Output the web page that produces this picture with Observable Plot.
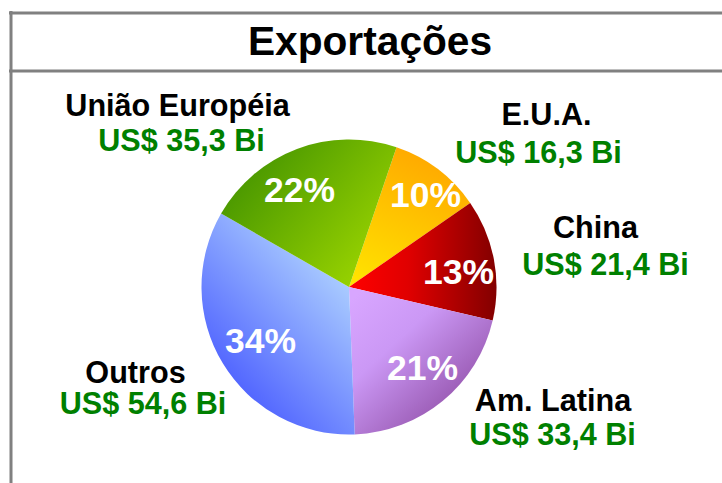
<!DOCTYPE html>
<html lang="pt">
<head>
<meta charset="utf-8">
<style>
html,body{margin:0;padding:0;background:#fff;overflow:hidden}
svg{display:block}
</style>
<script src="https://cdn.jsdelivr.net/npm/d3@7"></script>
<script src="https://cdn.jsdelivr.net/npm/@observablehq/plot@0.6"></script>
</head>
<body>
<div id="chart"></div>
<script>
const title = "Exportações";
const regions = ["E.U.A.", "China", "Am. Latina", "Outros", "União Européia"];
const values = [16.3, 21.4, 33.4, 54.6, 35.3];
const shares = ["10%", "13%", "21%", "34%", "22%"];
const amounts = ["US$ 16,3 Bi", "US$ 21,4 Bi", "US$ 33,4 Bi", "US$ 54,6 Bi", "US$ 35,3 Bi"];

// Layout, separate from the data
const W = 722, H = 483;
const pieCenter = [349, 287], pieRadius = 147.5, startAngleDeg = 18.8;
const FONT = "'Liberation Sans', Arial, sans-serif";
const regionAt = [[546, 115], [595, 228], [552.5, 401], [135, 373], [177, 105.5]];
const amountAt = [[538, 153], [605, 265], [552, 435], [142.5, 404], [181, 141]];
const shareAt = [[425, 195], [458, 272], [422, 368], [260, 341], [299, 190.5]];
// gradient vectors are relative to the pie centre
const gradients = [
  {v: [0, 0, 70, -150], s: [["0%", "#ffe600"], ["100%", "#ffa400"]]},
  {v: [0, 0, 148, 0], s: [["0%", "#ff0000"], ["40%", "#e00000"], ["100%", "#820000"]]},
  {v: [10, 5, 130, 135], s: [["0%", "#d8a6ff"], ["35%", "#cb98f5"], ["100%", "#87439a"]]},
  {v: [0, 0, -125, 115], s: [["0%", "#a9cbff"], ["100%", "#4658ff"]]},
  {v: [10, 0, -120, -110], s: [["0%", "#9ad400"], ["100%", "#469500"]]}
];

const rows = regions.map((region, i) => ({region, value: values[i], share: shares[i], amount: amounts[i], i}));
const at = (pts, k) => (d) => pts[d.i][k];

function pieMark(index, {x, y}) {
  const root = d3.create("svg:g");
  const defs = root.append("defs");
  gradients.forEach((g, i) => {
    const lg = defs.append("linearGradient").attr("id", "slice" + i)
      .attr("gradientUnits", "userSpaceOnUse")
      .attr("x1", g.v[0]).attr("y1", g.v[1]).attr("x2", g.v[2]).attr("y2", g.v[3]);
    g.s.forEach(([o, c]) => lg.append("stop").attr("offset", o).attr("stop-color", c));
  });
  const start = startAngleDeg * Math.PI / 180;
  const pie = d3.pie().sort(null).value((d) => d.value).startAngle(start).endAngle(start + 2 * Math.PI);
  const arc = d3.arc().innerRadius(0).outerRadius(pieRadius);
  root.append("g").attr("transform", `translate(${x(pieCenter[0])},${y(pieCenter[1])})`)
    .selectAll("path").data(pie(rows)).join("path")
    .attr("d", arc).attr("fill", (d, i) => `url(#slice${i})`);
  return root.node();
}

const plot = Plot.plot({
  width: W, height: H, margin: 0,
  x: {domain: [0, W], range: [0, W], axis: null},
  y: {domain: [0, H], range: [0, H], axis: null},
  style: {background: "#fff", fontFamily: FONT},
  marks: [
    pieMark,
    Plot.ruleY([12.5, 70.5], {x1: 9, x2: W, stroke: "#808080", strokeWidth: 3}),
    Plot.ruleX([10.5], {y1: 11, y2: H, stroke: "#808080", strokeWidth: 3}),
    Plot.text([title], {x: 369.5, y: 41.5, text: (d) => d, fontSize: 40.7, fontWeight: "bold", fill: "#000", fontFamily: FONT}),
    Plot.text(rows, {x: at(regionAt, 0), y: at(regionAt, 1), text: "region", fontSize: 30.6, fontWeight: "bold", fill: "#000", fontFamily: FONT}),
    Plot.text(rows, {x: at(amountAt, 0), y: at(amountAt, 1), text: "amount", fontSize: 30.6, fontWeight: "bold", fill: "#008000", fontFamily: FONT}),
    Plot.text(rows, {x: at(shareAt, 0), y: at(shareAt, 1), text: "share", fontSize: 35.5, fontWeight: "bold", fill: "#fff", fontFamily: FONT})
  ]
});
document.getElementById("chart").append(plot);
</script>
</body>
</html>
